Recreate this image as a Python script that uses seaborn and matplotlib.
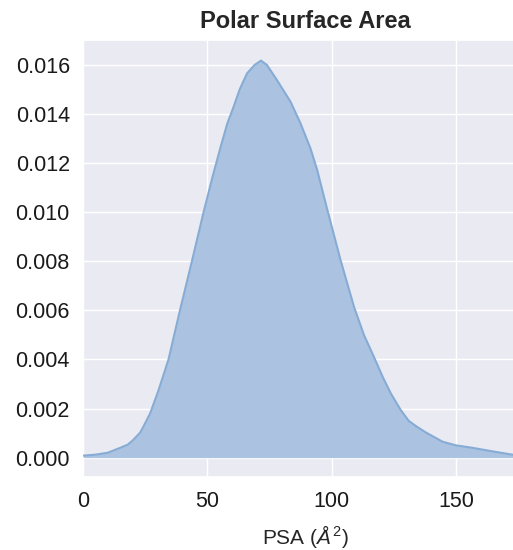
import matplotlib
matplotlib.use("Agg")
import matplotlib.pyplot as plt
import seaborn as sns

# Density curve
psa = [0, 5, 10, 15, 18, 20, 23, 25, 27, 30.4, 34.4, 39, 43.8, 48.5, 52, 55.2,
       58, 60.6, 63, 66, 69, 71.6, 74, 78, 83.5, 87.5, 91.5, 94.2, 98.3, 103.6,
       109, 113, 117, 120.5, 123.8, 127.8, 131, 134, 138, 144.6, 150, 156.6,
       165, 172.7, 179]
density = [0.00008, 0.00012, 0.0002, 0.0004, 0.00053, 0.0007, 0.00102, 0.0014,
           0.0018, 0.00275, 0.0040, 0.0060, 0.0080, 0.0100, 0.0114, 0.0126,
           0.0136, 0.0143, 0.0150, 0.01566, 0.0160, 0.01618, 0.0160, 0.01539,
           0.01450, 0.01362, 0.01260, 0.01172, 0.01009, 0.00805, 0.00615,
           0.0050, 0.00411, 0.0033, 0.00262, 0.00194, 0.0015, 0.00128, 0.00102,
           0.00065, 0.0005, 0.0004, 0.00025, 0.00012, 0.00005]
x_ticks = [0, 50, 100, 150]
y_ticks = [0.000, 0.002, 0.004, 0.006, 0.008, 0.010, 0.012, 0.014, 0.016]

sns.set_theme(style="darkgrid")
plt.rcParams['font.family'] = ['Liberation Sans', 'DejaVu Sans']
plt.rcParams['mathtext.fontset'] = 'custom'
plt.rcParams['mathtext.rm'] = 'Liberation Sans'
plt.rcParams['mathtext.it'] = 'Liberation Sans:italic'

fig = plt.figure(figsize=(5.13, 5.5), dpi=100)
ax = fig.add_axes([83 / 513, 73 / 550, 445 / 513, 437 / 550])

fill_col = '#abc3e0'
line_col = '#86acd5'
ax.fill_between(psa, density, color=fill_col, linewidth=0, zorder=2)
sns.lineplot(x=psa, y=density, ax=ax, color=line_col, linewidth=1.5,
             sort=False, estimator=None, zorder=3)

ax.set_xlim(0, 179)
ax.set_ylim(-0.00079, 0.01702)
ax.set_xticks(x_ticks)
ax.set_yticks(y_ticks)
ax.set_yticklabels([f"{v:.3f}" for v in y_ticks])
ax.tick_params(axis='both', labelsize=15.5, length=0, colors='#1a1a1a')
ax.tick_params(axis='y', pad=9.5)
ax.tick_params(axis='x', pad=10)
ax.set_title("Polar Surface Area", fontsize=17, fontweight='bold',
             color='#262626', pad=9)
ax.set_xlabel(r"PSA ($\AA^2$)", fontsize=15, color='#262626', labelpad=8)
ax.set_ylabel("")

fig.savefig("out.png", dpi=100)
